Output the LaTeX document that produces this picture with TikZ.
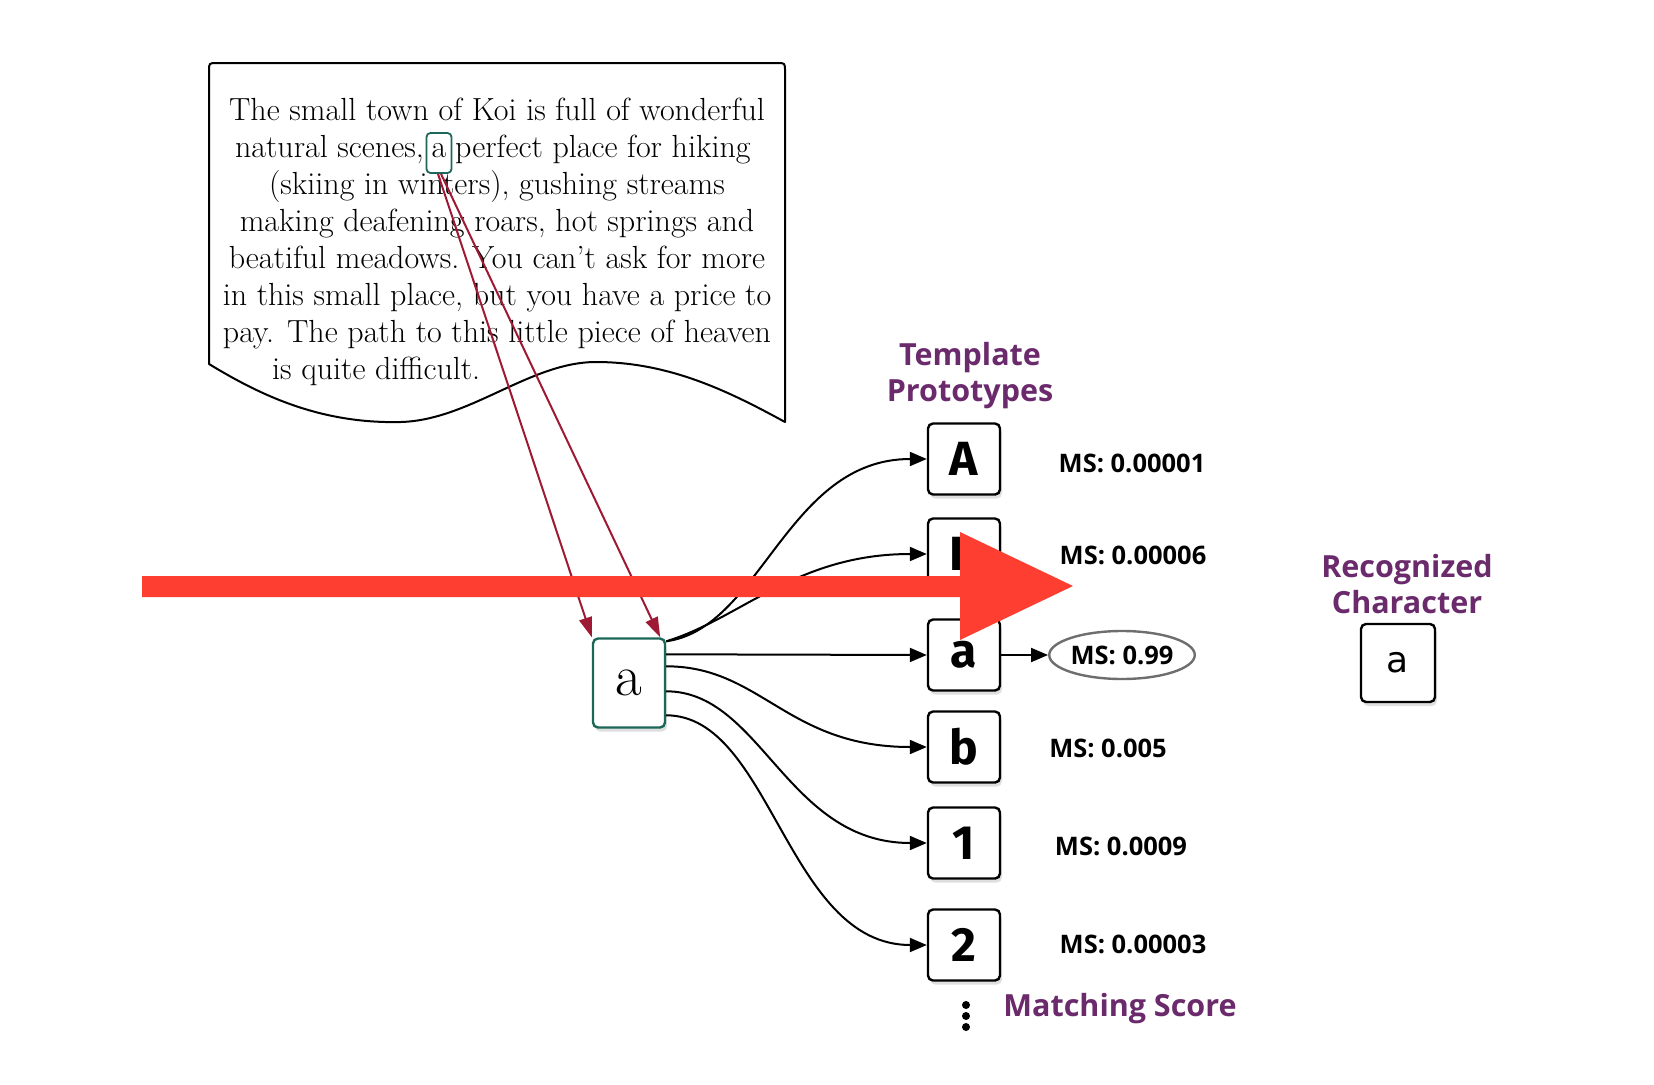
\documentclass[tikz,border=0pt]{standalone}
\usepackage{fontspec}
\newfontfamily\fira{Fira Sans}
\newfontfamily\opens{Open Sans}
\newfontfamily\djv{DejaVu Sans}
\usetikzlibrary{shapes.geometric,shadows,arrows.meta,calc}
\definecolor{purp}{RGB}{106,42,108}
\definecolor{tealb}{RGB}{28,104,88}
\definecolor{dred}{RGB}{158,26,52}
\definecolor{bigred}{RGB}{253,62,48}
\definecolor{ellg}{RGB}{110,110,110}
\begin{document}
\begin{tikzpicture}[x=1pt,y=-1pt,
 txt/.style={inner sep=0pt,anchor=base,font=\fontsize{32}{37}\selectfont},
 proto/.style={draw,line width=2.4pt,rounded corners=5pt,fill=white,minimum width=72pt,minimum height=71pt,inner sep=0pt,font=\fira\bfseries\fontsize{48}{48}\selectfont,drop shadow={shadow xshift=2pt,shadow yshift=-4pt,opacity=0.25}},
 ms/.style={font=\opens\bfseries\fontsize{25.5}{25.5}\selectfont,inner sep=0pt},
 lab/.style={font=\opens\bfseries\fontsize{30.5}{36}\selectfont,text=purp,align=center,inner sep=0pt},
 conn/.style={line width=2pt,-{Triangle[length=17pt,width=14pt]}},
 rline/.style={draw=dred,line width=2pt,-{Triangle[length=20pt,width=13pt]}},
 dot/.style={circle,fill=black,inner sep=0pt,minimum size=8pt},
]
\useasboundingbox[fill=white] (0,0) rectangle (1654,1084);

% document shape
\draw[line width=2pt,line join=round]
  (209,364) -- (209,71) .. controls (209,63) .. (217,63) -- (777,63)
  .. controls (785,63) .. (785,71) -- (785,422)
  .. controls (730,392) and (670,362) .. (596,362)
  .. controls (530,362) and (470,420) .. (401,422)
  .. controls (320,424) and (260,395) .. cycle;

% text lines
\node[txt] (l1) at (497,120) {The small town of Koi is full of wonderful};
\node[txt,draw=tealb,line width=1.8pt,rounded corners=4pt,minimum width=25pt,text height=20pt,text depth=12pt,inner ysep=4pt,inner xsep=0pt] (achar) at (439,157) {a};
\node[txt,anchor=base east] (l2a) at (424,157) {natural scenes,};
\node[txt,anchor=base west] (l2b) at (455,157) {perfect place for hiking};
\node[txt] (l3) at (497,194) {(skiing in winters), gushing streams};
\node[txt] (l4) at (497,231) {making deafening roars, hot springs and};
\node[txt] (l5) at (497,268) {beatiful meadows. You can't ask for more};
\node[txt] (l6) at (497,305) {in this small place, but you have a price to};
\node[txt] (l7) at (497,342) {pay. The path to this little piece of heaven};
\node[txt,anchor=base west] (l8) at (272,379) {is quite difficult.};

% main extracted character
\node[draw=tealb,line width=2.4pt,rounded corners=5pt,fill=white,minimum width=72pt,minimum height=89pt,inner sep=0pt,font=\fontsize{58}{58}\selectfont,drop shadow={shadow xshift=2pt,shadow yshift=-4pt,opacity=0.25}] (main) at (629,683) {a};

% prototypes
\node[proto] (pA) at (964,459) {A};
\node[proto] (pB) at (964,554) {B};
\node[proto] (pa) at (964,655) {a};
\node[proto] (pb) at (964,747) {b};
\node[proto] (p1) at (964,843) {1};
\node[proto] (p2) at (964,945) {2};

\node[dot] (d1) at (966,1005) {};
\node[dot] (d2) at (966,1016) {};
\node[dot] (d3) at (966,1027) {};

% labels
\node[lab] (tp) at (970,376) {Template\\Prototypes};
\node[lab] (rc) at (1407,584) {Recognized\\Character};
\node[lab] (msl) at (1120,1009) {Matching Score};

% scores
\node[ms] (ms1) at (1132,463) {MS: 0.00001};
\node[ms] (ms2) at (1133,555) {MS: 0.00006};
\node[ms,ellipse,draw=ellg,line width=2.4pt,minimum width=138pt,minimum height=48pt,inner sep=0pt] (ms3) at (1122,655) {MS: 0.99};
\node[ms] (ms4) at (1108,748) {MS: 0.005};
\node[ms] (ms5) at (1121,846) {MS: 0.0009};
\node[ms] (ms6) at (1133,944) {MS: 0.00003};

% recognized
\node[draw,line width=2.4pt,rounded corners=5pt,fill=white,minimum width=74pt,minimum height=78pt,inner sep=0pt,font=\djv\fontsize{36}{36}\selectfont,drop shadow={shadow xshift=2pt,shadow yshift=-4pt,opacity=0.25}] (rec) at (1398,663) {a};

% connectors
\draw[conn] ($(main.north east)+(0,4)$) .. controls +(95,-13) and +(-140,0) .. (pA.west);
\draw[conn] ($(main.north east)+(0,4)$) .. controls +(75,-23) and +(-130,0) .. (pB.west);
\draw[conn] ($(main.north east)+(0,17)$) -- (pa.west);
\draw[conn] ($(main.north east)+(0,29)$) .. controls +(95,0) and +(-140,0) .. (pb.west);
\draw[conn] ($(main.north east)+(0,54)$) .. controls +(95,0) and +(-140,0) .. (p1.west);
\draw[conn] ($(main.north east)+(0,78)$) .. controls +(105,0) and +(-140,0) .. (p2.west);
\draw[conn] (pa.east) -- (ms3.west);

% red lines from text to character
\draw[rline] ($(achar.south)+(-1,0)$) -- (main.north west);
\draw[rline] ($(achar.south)+(2,0)$) -- ($(main.north east)+(-6,0)$);

% big red arrow
\fill[bigred] (142,576) -- (960,576) -- (960,532) -- (1073,586) -- (960,640) -- (960,597) -- (142,597) -- cycle;
\end{tikzpicture}
\end{document}
